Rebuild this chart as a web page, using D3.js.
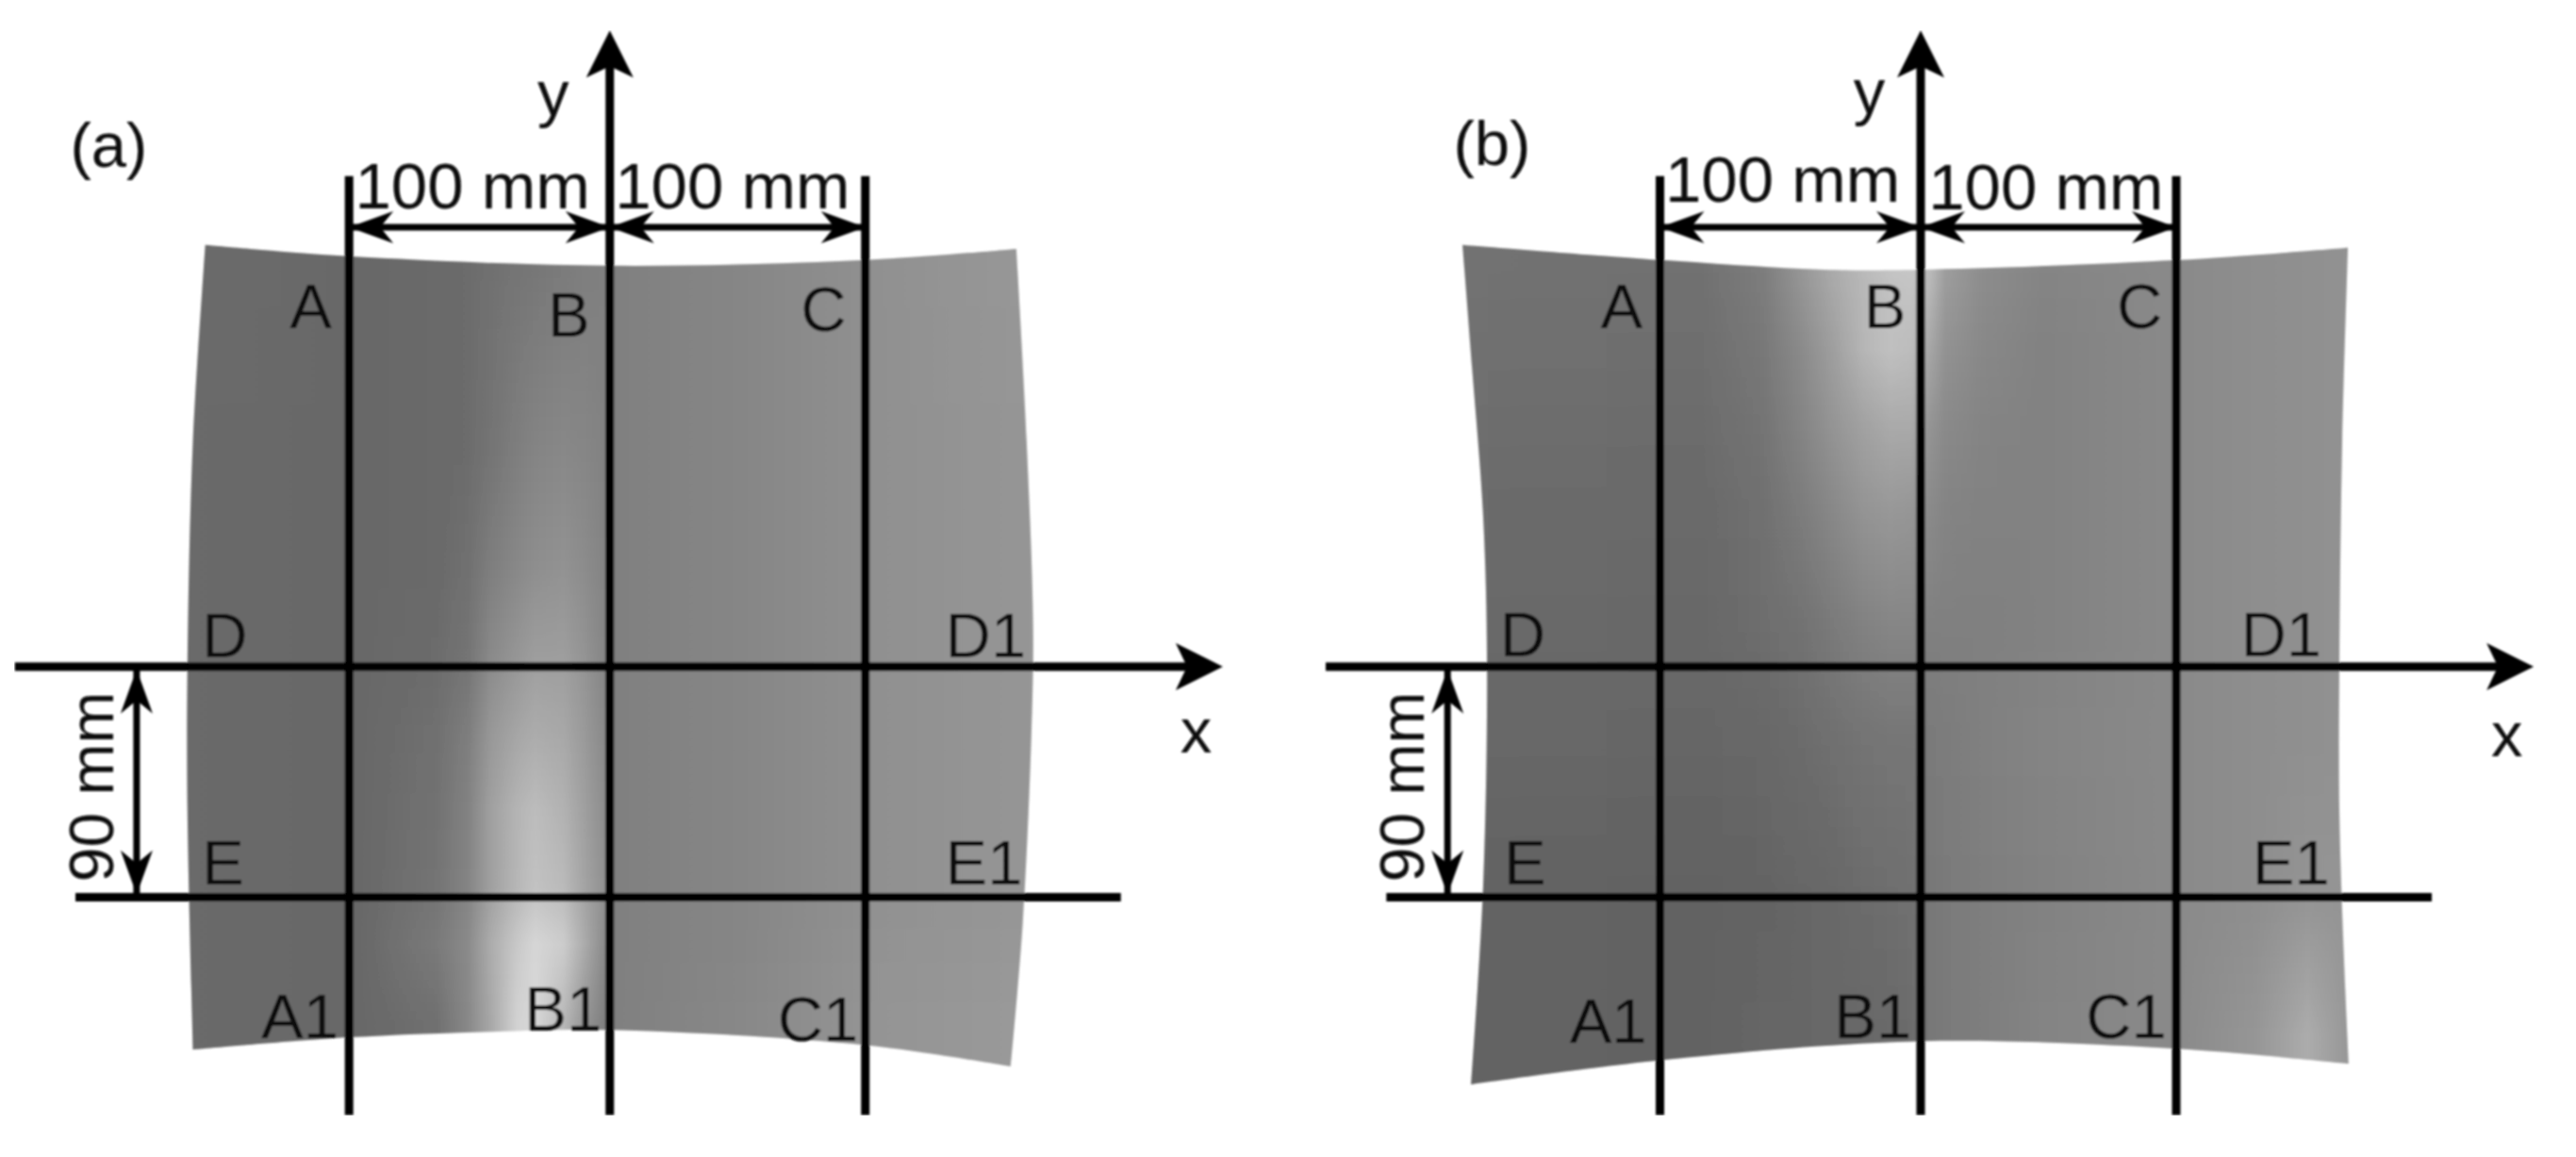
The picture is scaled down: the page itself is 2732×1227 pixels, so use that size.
<!DOCTYPE html>
<html><head><meta charset="utf-8">
<script src="https://cdn.jsdelivr.net/npm/d3@7"></script>
<style>html,body{margin:0;background:#fff}svg{display:block}text{font-family:"Liberation Sans",Arial,sans-serif;fill:#0a0a0a}</style>
</head><body><svg id="c" width="2732" height="1227"></svg>
<script>
// positions in mm on the plate; greys 0-255
const gridX = {a:[-101,0,99], b:[-101,0,99]};
const axisY = 0, lineEY = -90;
const edgesA = {
 top:[[-156.7,164.6],[-101.1,160.2],[0,156.5],[98.9,158.7],[157.5,163.1]],
 right:[[157.5,163.1],[161.5,87.8],[164,15.8],[163.3,-27.6],[160,-99.9],[155.3,-156.1]],
 bottom:[[155.3,-156.1],[98.9,-147.7],[0,-141.8],[-45.5,-142.5],[-101.1,-144.7],[-161.5,-149.5]],
 left:[[-161.5,-149.5],[-163.6,-56.6],[-163.6,1.1],[-161.5,87.8],[-156.7,164.6]]};
const edgesB = {
 top:[[-177.5,164.6],[-100.4,158.7],[-37.5,155],[0,155],[99.6,158.7],[165.5,163.5]],
 right:[[165.5,163.5],[163.3,87.8],[162.2,1.1],[162.2,-56.6],[164,-114.3],[165.8,-155]],
 bottom:[[165.8,-155],[99.6,-149.2],[0,-146.2],[-100.4,-153.6],[-174.2,-163.1]],
 left:[[-174.2,-163.1],[-169.5,-85.6],[-168,1.1],[-169.5,58.8],[-173.8,116.8],[-177.5,164.6]]};
const colsA = [-165,-97,-67,-55,-46,-36,-29,-18,-10,-2.5,1,50,100,165];
const rowsA = [165,160,84,39,3,-27,-56,-86,-108,-139,-165];
const greyA = [
 [108,104,106,108,112,116,118,122,126,128,128,134,144,152],
 [108,104,106,108,112,116,118,122,126,128,128,134,144,152],
 [106,104,106,108,116,126,132,136,134,130,128,134,144,150],
 [106,104,106,112,126,136,142,146,140,132,128,134,144,150],
 [106,104,108,116,138,150,158,158,148,134,128,134,144,150],
 [106,104,112,126,152,166,172,168,154,138,128,134,144,150],
 [106,104,114,130,160,180,188,178,160,142,128,134,144,150],
 [106,104,116,132,160,182,194,186,164,146,128,134,144,150],
 [106,104,122,138,172,200,214,204,172,140,128,134,146,152],
 [106,104,112,136,168,210,216,184,150,128,128,136,148,154],
 [106,104,112,136,168,210,216,184,150,128,128,136,148,154]];
const colsB = [-178,-85.5,-61,-46.4,-34.3,-21.9,-11.7,-3.7,3.7,9.5,24.1,47.1,100,130,150,166];
const rowsB = [165,150,124,94.6,61.5,17.3,-26.9,-89.4,-144.6,-165];
const greyB = [
 [114,114,126,152,172,190,200,205,190,160,142,134,138,142,144,146],
 [114,112,124,148,168,184,194,196,184,156,140,132,138,142,144,146],
 [112,110,120,138,158,182,192,188,166,146,136,130,138,142,144,146],
 [110,108,116,132,148,162,170,170,148,138,132,130,138,142,144,146],
 [108,106,112,124,136,148,152,150,138,132,130,130,138,142,144,146],
 [106,104,110,114,122,130,134,134,128,128,128,130,138,142,144,146],
 [104,102,104,108,112,116,118,118,122,124,128,132,138,142,144,146],
 [100,98,100,102,104,108,110,112,120,122,126,130,138,142,148,148],
 [100,98,102,102,104,104,106,108,120,122,126,132,138,150,172,150],
 [100,98,102,102,104,104,106,108,120,122,126,132,138,150,172,150]];
const labelsA = [["(a)",-209,195.2],["y",-28,215.5],["x",221,-33.5],["A",-124,132],["B",-24,129],["C",74,131],
 ["D",-158,3.6],["D1",130,3.6],["E",-158,-85],["E1",130,-85],["A1",-135,-145],["B1",-33,-142],["C1",65,-146]];
const labelsB = [["(b)",-181,196],["y",-26,216],["x",221,-35],["A",-124,132],["B",-22,132],["C",76,132],
 ["D",-163,4.2],["D1",124,4.2],["E",-161.5,-85],["E1",128.5,-85],["A1",-136,-147],["B1",-33.5,-145],["C1",64,-145]];
const spanLabelsA = [["100 mm",-98.7,179],["100 mm",2,179]];
const spanLabelsB = [["100 mm",-99,181.5],["100 mm",3,178.5]];
const dimLabel = "90 mm";

const svg = d3.select("#c");
const defs = svg.append("defs");
const blur = defs.append("filter").attr("id","soft").attr("x",0).attr("y",0).attr("width",1).attr("height",1);
blur.append("feGaussianBlur").attr("stdDeviation",0.9);
const root = svg.append("g").attr("filter","url(#soft)");
const FS = 67, FS2 = 69, LW = 9, DW = 7;

function panel(id, x0, edges, cols, rows, grey, labels, spans, gx){
  const x = d3.scaleLinear().domain([0,100]).range([x0, x0+273.76]);
  const y = d3.scaleLinear().domain([0,-90]).range([707, 951.5]);
  const g = root.append("g");
  const line = d3.line().x(d=>x(d[0])).y(d=>y(d[1])).curve(d3.curveCatmullRom);
  const outline = ["top","right","bottom","left"].map((k,i)=>{
    const p = line(edges[k]); return i? "L"+p.slice(1) : p; }).join("")+"Z";
  defs.append("clipPath").attr("id","clip"+id).append("path").attr("d",outline);
  const colScale = cols.map((c,j)=>d3.scaleLinear().domain(rows).range(rows.map((r,i)=>grey[i][j])));
  const surface = g.append("g").attr("clip-path",`url(#clip${id})`);
  const xa = x(cols[0]), xb = x(cols[cols.length-1]);
  const step = 3;
  const bands = d3.range(y(rows[0]), y(rows[rows.length-1]), step);
  bands.forEach((py,i)=>{
    const gid = `g${id}${i}`, v = y.invert(py+step/2);
    const lg = defs.append("linearGradient").attr("id",gid).attr("gradientUnits","userSpaceOnUse")
      .attr("x1",xa).attr("x2",xb).attr("y1",0).attr("y2",0);
    cols.forEach((c,j)=>{ const s=Math.round(colScale[j](v));
      lg.append("stop").attr("offset",(x(c)-xa)/(xb-xa)).attr("stop-color",d3.rgb(s,s,s)); });
    surface.append("rect").attr("x",xa).attr("width",xb-xa).attr("y",py).attr("height",step+0.5).attr("fill",`url(#${gid})`);
  });
  const stroke = (pts,w)=>g.append("path").attr("d",d3.line().x(d=>x(d[0])).y(d=>y(d[1]))(pts))
    .attr("fill","none").attr("stroke","#000").attr("stroke-width",w);
  gx.forEach(v=>stroke([[v,v===0?237:191.5],[v,-175]],LW));
  stroke([[-230.5,axisY],[228,axisY]],LW);
  stroke([[-207,lineEY],[198,lineEY]],LW);
  const head=(tx,ty,dx,dy,L,W,N)=>{ const px=x(tx),py=y(ty);
    g.append("path").attr("fill","#000").attr("d",
     `M${px},${py}L${px-dx*L-dy*W},${py-dy*L-dx*W}L${px-dx*N},${py-dy*N}L${px-dx*L+dy*W},${py-dy*L+dx*W}Z`); };
  head(237.5,axisY,1,0,50,25,38); head(0,248.4,0,-1,50,25,38);
  const dim=(x1,y1,x2,y2)=>{
    stroke([[x1,y1],[x2,y2]],DW);
    const ax=x(x2)-x(x1), ay=y(y2)-y(y1), d=Math.hypot(ax,ay);
    head(x2,y2,ax/d,ay/d,47,17,33); head(x1,y1,-ax/d,-ay/d,47,17,33); };
  dim(gx[0],171.5,0,171.5); dim(0,171.5,gx[2],171.5); dim(-183.3,axisY-1,-183.3,lineEY+1);
  g.selectAll("text.l").data(labels).join("text").attr("class","l")
    .attr("x",d=>x(d[1])).attr("y",d=>y(d[2])).attr("font-size",FS).text(d=>d[0]);
  g.selectAll("text.s").data(spans).join("text").attr("class","s")
    .attr("x",d=>x(d[1])).attr("y",d=>y(d[2])).attr("font-size",FS2).text(d=>d[0]);
  g.append("text").attr("font-size",66).attr("transform",`translate(${x(-192.5)},${y(-84)}) rotate(-90)`).text(dimLabel);
}
panel("a",646.7,edgesA,colsA,rowsA,greyA,labelsA,spanLabelsA,gridX.a);
panel("b",2037,edgesB,colsB,rowsB,greyB,labelsB,spanLabelsB,gridX.b);
</script></body></html>
